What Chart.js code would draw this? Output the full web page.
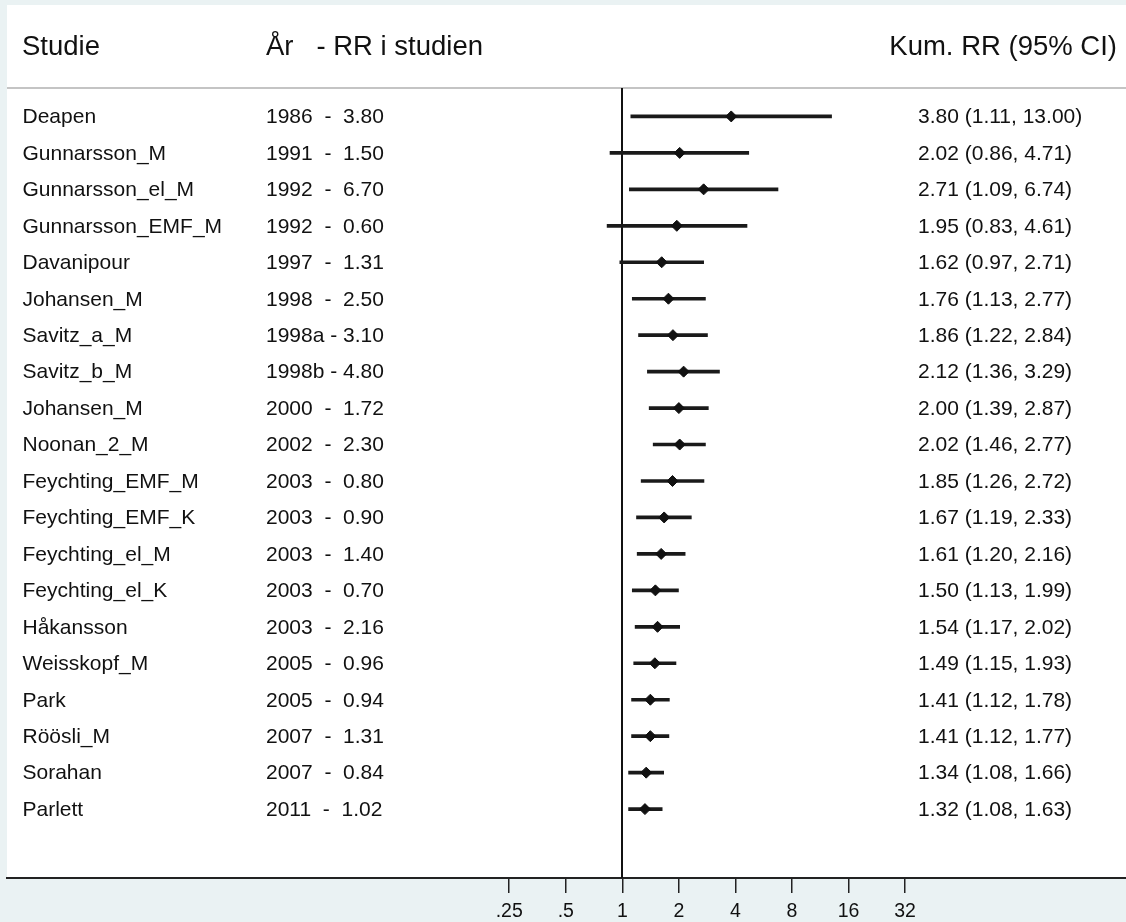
<!DOCTYPE html>
<html>
<head>
<meta charset="utf-8">
<title>Kumulativ metaanalys</title>
<script src="https://cdn.jsdelivr.net/npm/chart.js@4.4.1/dist/chart.umd.min.js"></script>
<style>
  html, body { margin: 0; padding: 0; background: #eaf2f3; }
  #wrap { width: 1126px; height: 922px; }
</style>
</head>
<body>
<div id="wrap"><canvas id="myChart" width="1126" height="922"></canvas></div>
<script>
// data
const studies = [
  "Deapen", "Gunnarsson_M", "Gunnarsson_el_M", "Gunnarsson_EMF_M", "Davanipour",
  "Johansen_M", "Savitz_a_M", "Savitz_b_M", "Johansen_M", "Noonan_2_M",
  "Feychting_EMF_M", "Feychting_EMF_K", "Feychting_el_M", "Feychting_el_K", "Håkansson",
  "Weisskopf_M", "Park", "Röösli_M", "Sorahan", "Parlett"
];
const years = [
  "1986", "1991", "1992", "1992", "1997", "1998", "1998a", "1998b", "2000", "2002",
  "2003", "2003", "2003", "2003", "2003", "2005", "2005", "2007", "2007", "2011"
];
const studyRR = [3.80, 1.50, 6.70, 0.60, 1.31, 2.50, 3.10, 4.80, 1.72, 2.30,
                 0.80, 0.90, 1.40, 0.70, 2.16, 0.96, 0.94, 1.31, 0.84, 1.02];
const kumRR = [3.80, 2.02, 2.71, 1.95, 1.62, 1.76, 1.86, 2.12, 2.00, 2.02,
               1.85, 1.67, 1.61, 1.50, 1.54, 1.49, 1.41, 1.41, 1.34, 1.32];
const kumLo = [1.11, 0.86, 1.09, 0.83, 0.97, 1.13, 1.22, 1.36, 1.39, 1.46,
               1.26, 1.19, 1.20, 1.13, 1.17, 1.15, 1.12, 1.12, 1.08, 1.08];
const kumHi = [13.00, 4.71, 6.74, 4.61, 2.71, 2.77, 2.84, 3.29, 2.87, 2.77,
               2.72, 2.33, 2.16, 1.99, 2.02, 1.93, 1.78, 1.77, 1.66, 1.63];
const tickValues = [0.25, 0.5, 1, 2, 4, 8, 16, 32];
const tickLabels = [".25", ".5", "1", "2", "4", "8", "16", "32"];

const FONT = '"Liberation Sans", Arial, Helvetica, sans-serif';
const BG = "#eaf2f3";
const INK = "#111111";

// background panels, header line, reference line and the text columns
const forestText = {
  id: "forestText",
  beforeDraw(chart) {
    const ctx = chart.ctx;
    ctx.save();
    ctx.fillStyle = BG;
    ctx.fillRect(0, 0, chart.width, chart.height);
    ctx.fillStyle = "#ffffff";
    ctx.fillRect(7, 5, chart.width - 7, chart.chartArea.bottom - 5);
    ctx.restore();
  },
  beforeDatasetsDraw(chart) {
    const ctx = chart.ctx;
    const area = chart.chartArea;
    const x1 = chart.scales.x.getPixelForValue(1);
    ctx.save();
    // header rule
    ctx.strokeStyle = "#c4c4c4";
    ctx.lineWidth = 2;
    ctx.beginPath();
    ctx.moveTo(area.left, area.top);
    ctx.lineTo(chart.width, area.top);
    ctx.stroke();
    // no-effect line
    ctx.strokeStyle = INK;
    ctx.lineWidth = 2;
    ctx.beginPath();
    ctx.moveTo(Math.round(x1), area.top);
    ctx.lineTo(Math.round(x1), area.bottom);
    ctx.stroke();
    ctx.restore();
  },
  afterDraw(chart) {
    const ctx = chart.ctx;
    const yScale = chart.scales.y;
    ctx.save();
    ctx.fillStyle = INK;

    // headers
    ctx.font = "27.5px " + FONT;
    ctx.textBaseline = "alphabetic";
    ctx.textAlign = "left";
    ctx.fillText("Studie", 22, 55);
    ctx.fillText("År   - RR i studien", 266, 55);
    ctx.textAlign = "right";
    ctx.fillText("Kum. RR (95% CI)", 1117, 55);

    // rows
    ctx.font = "21px " + FONT;
    ctx.textBaseline = "middle";
    ctx.textAlign = "left";
    studies.forEach((name, i) => {
      const y = yScale.getPixelForValue(i) + 1;
      const sep = years[i].length > 4 ? " - " : "  -  ";
      ctx.fillText(name, 22.5, y);
      ctx.fillText(years[i] + sep + studyRR[i].toFixed(2), 266, y);
      ctx.fillText(
        kumRR[i].toFixed(2) + " (" + kumLo[i].toFixed(2) + ", " + kumHi[i].toFixed(2) + ")",
        918, y
      );
    });
    ctx.restore();
  }
};

const ctx = document.getElementById("myChart").getContext("2d");

new Chart(ctx, {
  type: "bar",
  data: {
    datasets: [
      {
        type: "bar",
        label: "95% CI",
        data: kumLo.map((lo, i) => ({ x: [lo, kumHi[i]], y: i })),
        backgroundColor: "#1a1a1a",
        borderWidth: 0,
        barThickness: 3,
        order: 2
      },
      {
        type: "scatter",
        label: "Kum. RR",
        data: kumRR.map((v, i) => ({ x: v, y: i })),
        pointStyle: "rectRot",
        pointRadius: 5.5,
        pointBackgroundColor: "#111111",
        pointBorderColor: "#111111",
        pointBorderWidth: 1,
        order: 1
      }
    ]
  },
  options: {
    indexAxis: "y",
    responsive: false,
    animation: false,
    devicePixelRatio: 1,
    layout: { autoPadding: false, padding: { left: 7, right: 0, top: 88, bottom: 0 } },
    plugins: {
      legend: { display: false },
      tooltip: { enabled: false }
    },
    scales: {
      x: {
        type: "logarithmic",
        position: "bottom",
        min: Math.pow(2, -10.881),
        max: Math.pow(2, 8.907),
        afterBuildTicks: (scale) => {
          scale.ticks = tickValues.map((v) => ({ value: v }));
        },
        afterFit: (scale) => {
          scale.height = 44;
          scale.paddingLeft = 0;
          scale.paddingRight = 0;
        },
        border: { display: true, color: "#222222", width: 2 },
        grid: {
          display: true,
          drawOnChartArea: false,
          drawTicks: true,
          tickLength: 15,
          color: "#222222",
          lineWidth: 1.5
        },
        ticks: {
          autoSkip: false,
          maxRotation: 0,
          padding: 9,
          color: INK,
          font: { family: FONT, size: 19.5, lineHeight: 1 },
          callback: (value, index) => tickLabels[index]
        }
      },
      y: {
        type: "linear",
        display: false,
        offset: false,
        reverse: true,
        min: -0.78,
        max: 20.89
      }
    }
  },
  plugins: [forestText]
});
</script>
</body>
</html>
